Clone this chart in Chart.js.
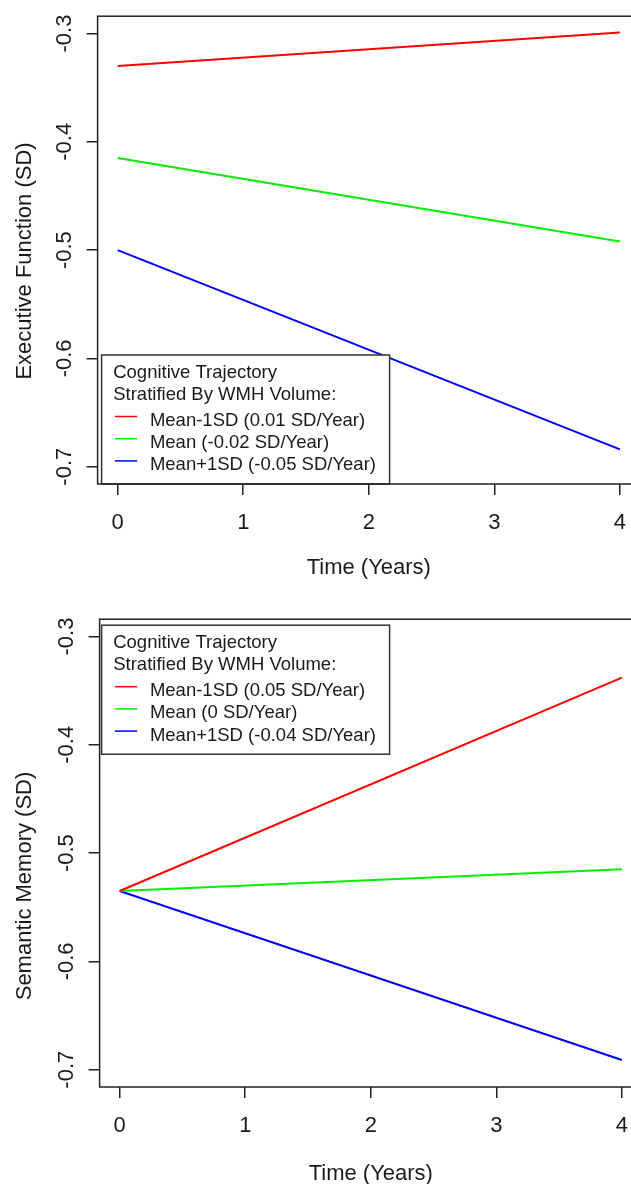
<!DOCTYPE html>
<html>
<head>
<meta charset="utf-8">
<script src="https://cdn.jsdelivr.net/npm/chart.js@4.4.1/dist/chart.umd.min.js"></script>
<style>
  html, body { margin: 0; padding: 0; background: #fff; overflow: hidden; }
  body { width: 631px; height: 1184px; position: relative; }
  canvas { position: absolute; }
  #efChart { left: 0; top: 0; }
  #smChart { left: 2px; top: 603px; }
</style>
</head>
<body>
<canvas id="efChart" width="660" height="581"></canvas>
<canvas id="smChart" width="660" height="584"></canvas>
<script>
// values, only the two ends of each straight trajectory
const years = [0, 4];
const xTicks = [0, 1, 2, 3, 4];
const yTicks = [-0.7, -0.6, -0.5, -0.4, -0.3];

const legendHeader = ['Cognitive Trajectory', 'Stratified By WMH Volume:'];
const seriesColors = ['#ff0000', '#00f000', '#0000ff'];

// top panel - executive function
const efLabels = ['Mean-1SD (0.01 SD/Year)', 'Mean (-0.02 SD/Year)', 'Mean+1SD (-0.05 SD/Year)'];
const efLow = [-0.330, -0.299];
const efMean = [-0.415, -0.492];
const efHigh = [-0.500, -0.684];

// bottom panel - semantic memory
const smLabels = ['Mean-1SD (0.05 SD/Year)', 'Mean (0 SD/Year)', 'Mean+1SD (-0.04 SD/Year)'];
const smLow = [-0.535, -0.338];
const smMean = [-0.535, -0.515];
const smHigh = [-0.535, -0.691];

const FONT = '"Liberation Sans", Arial, Helvetica, sans-serif';
const INK = '#1a1a1a';

// R style extras: box round the plot, legend with header lines, y axis label
const rPanel = {
  id: 'rPanel',
  afterDatasetsDraw(chart, args, opts) {
    const ctx = chart.ctx;
    const a = chart.chartArea;
    const lg = opts.legend;
    const bx = a.left + lg.dx;
    const by = lg.anchor === 'bottom' ? a.bottom - lg.h : a.top + lg.dy;
    ctx.save();
    ctx.fillStyle = '#fff';
    ctx.fillRect(bx, by, lg.w, lg.h);
    ctx.strokeStyle = '#333';
    ctx.lineWidth = 1.5;
    ctx.strokeRect(bx, by, lg.w, lg.h);
    ctx.font = '18.5px ' + FONT;
    ctx.fillStyle = INK;
    ctx.textBaseline = 'alphabetic';
    legendHeader.forEach((t, i) => ctx.fillText(t, bx + 11.6, by + 23 + i * 22));
    chart.data.datasets.forEach((ds, i) => {
      const y = by + 61.5 + i * 22.2;
      ctx.strokeStyle = ds.borderColor;
      ctx.lineWidth = 1.5;
      ctx.beginPath();
      ctx.moveTo(bx + 13.3, y);
      ctx.lineTo(bx + 35.6, y);
      ctx.stroke();
      ctx.fillText(ds.label, bx + 48.3, y + 9.5);
    });
    ctx.restore();
  },
  afterDraw(chart, args, opts) {
    const ctx = chart.ctx;
    const a = chart.chartArea;
    ctx.save();
    ctx.strokeStyle = '#222';
    ctx.lineWidth = 1.5;
    ctx.strokeRect(a.left, a.top, a.right - a.left, a.bottom - a.top);
    ctx.translate(opts.yTitle.x, opts.yTitle.y);
    ctx.rotate(-Math.PI / 2);
    ctx.font = '22px ' + FONT;
    ctx.fillStyle = INK;
    ctx.textAlign = 'center';
    ctx.textBaseline = 'middle';
    ctx.fillText(opts.yTitle.text, 0, 0);
    ctx.restore();
  }
};

function makeChart(id, labels, series, cfg) {
  return new Chart(document.getElementById(id), {
    type: 'line',
    data: {
      datasets: series.map((vals, i) => ({
        label: labels[i],
        data: years.map((x, j) => ({ x: x, y: vals[j] })),
        borderColor: seriesColors[i],
        borderWidth: 2,
        pointRadius: 0,
        tension: 0
      }))
    },
    options: {
      responsive: false,
      animation: false,
      events: [],
      layout: { autoPadding: false, padding: { top: 12, right: 20, left: 0, bottom: 0 } },
      plugins: {
        legend: { display: false },
        tooltip: { enabled: false },
        rPanel: { legend: cfg.legend, yTitle: cfg.yTitle }
      },
      scales: {
        x: {
          type: 'linear',
          min: -0.16,
          max: 4.16,
          afterBuildTicks: s => { s.ticks = xTicks.map(v => ({ value: v })); },
          afterFit: s => { s.height = cfg.xHeight; },
          border: { display: false },
          grid: { drawOnChartArea: false, drawTicks: true, tickLength: 11, color: '#222', lineWidth: 1.5 },
          ticks: {
            color: INK, font: { family: FONT, size: 22 }, padding: 15,
            maxRotation: 0, autoSkip: false, callback: v => String(v)
          },
          title: {
            display: true, text: 'Time (Years)', color: INK,
            font: { family: FONT, size: 22 }, padding: { top: 0, bottom: 0 }
          }
        },
        y: {
          type: 'linear',
          min: -0.716,
          max: -0.284,
          afterBuildTicks: s => { s.ticks = yTicks.map(v => ({ value: v })); },
          afterFit: s => { s.width = 97.6; },
          border: { display: false },
          grid: { drawOnChartArea: false, drawTicks: true, tickLength: 11, color: '#222', lineWidth: 1.5 },
          ticks: {
            color: INK, font: { family: FONT, size: 22 }, padding: 3,
            minRotation: 90, maxRotation: 90, crossAlign: 'center',
            autoSkip: false, callback: v => v.toFixed(1)
          }
        }
      }
    },
    plugins: [rPanel]
  });
}

makeChart('efChart', efLabels, [efLow, efMean, efHigh], {
  xHeight: 97,
  legend: { anchor: 'bottom', dx: 4, dy: 0, w: 288, h: 129 },
  yTitle: { text: 'Executive Function (SD)', x: 25, y: 261 }
});

makeChart('smChart', smLabels, [smLow, smMean, smHigh], {
  xHeight: 100,
  legend: { anchor: 'top', dx: 2, dy: 6, w: 288, h: 129 },
  yTitle: { text: 'Semantic Memory (SD)', x: 23, y: 283 }
});
</script>
</body>
</html>
